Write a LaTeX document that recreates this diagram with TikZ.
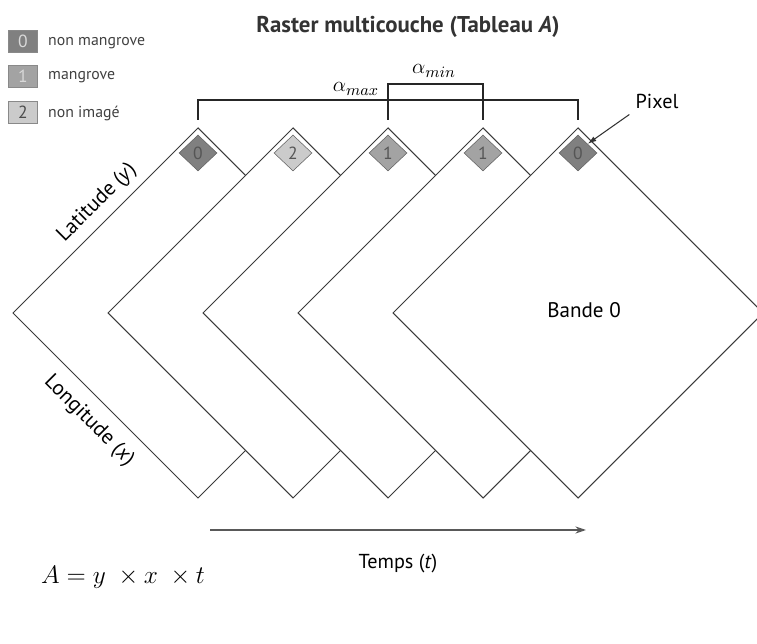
\documentclass[tikz,border=0pt]{standalone}
\usepackage{fontspec}
\setmainfont{PT Sans}
\usetikzlibrary{shapes.geometric, arrows.meta}

\begin{document}
\begin{tikzpicture}[x=0.02cm, y=-0.02cm, font=\fontsize{11.5}{13}\selectfont]
    % Define sizes (in pixels of the original figure)
    \def\halfDiag{185}
    \def\bandStep{95}
    \def\midY{313}

    \definecolor{borderColour}{HTML}{3A3A3A}
    \definecolor{zeroColour}{HTML}{808080}
    \definecolor{oneColour}{HTML}{A3A3A3}
    \definecolor{twoColour}{HTML}{CBCBCB}
    \definecolor{digitColour}{HTML}{555555}

    \tikzset{
        band/.style={fill=white, draw=borderColour, line width=0.6pt},
        pixel/.style={diamond, draw=borderColour!80, line width=0.3pt, inner sep=0pt,
            minimum width=0.76cm, minimum height=0.72cm, text=digitColour,
            font=\fontsize{10}{11}\selectfont},
        legendbox/.style={draw=borderColour!60, line width=0.4pt, inner sep=0pt,
            minimum width=0.58cm, minimum height=0.44cm, text=white!85!black,
            font=\fontsize{10}{12}\selectfont},
        legendtext/.style={anchor=west, text=black!75, font=\fontsize{9}{11}\selectfont},
        bracket/.style={line width=1pt, draw=black!85}
    }

    \useasboundingbox (0,0) rectangle (757,644);

    % Title
    \node[font=\bfseries\fontsize{13}{15}\selectfont, text=black!80] (title) at (408,27)
        {Raster multicouche (Tableau \textit{A})};

    % Legend
    \node[legendbox, fill=zeroColour] (leg0) at (23,41) {0};
    \node[legendbox, fill=oneColour] (leg1) at (23,76) {1};
    \node[legendbox, fill=twoColour, text=black!70] (leg2) at (23,112) {2};
    \node[legendtext] (leg0txt) at (42,43) {non mangrove};
    \node[legendtext] (leg1txt) at (42,77) {mangrove};
    \node[legendtext] (leg2txt) at (42,113) {non imagé};

    % Draw the bands, from the back (left) to the front (right)
    \foreach \i/\val/\col in {0/0/zeroColour, 1/2/twoColour, 2/1/oneColour, 3/1/oneColour, 4/0/zeroColour} {
        \pgfmathsetmacro\cx{198+\i*\bandStep}
        \filldraw[band] (\cx,\midY-\halfDiag) -- (\cx+\halfDiag,\midY)
            -- (\cx,\midY+\halfDiag) -- (\cx-\halfDiag,\midY) -- cycle;
        \coordinate (tick\i) at (\cx,120);
        \node[pixel, fill=\col] (pix\i) at (\cx,153) {\val};
    }

    % Brackets for the time windows
    \draw[bracket] (tick0) -- ++(0,-20) -| (tick4);
    \draw[bracket] (tick2) -- ++(0,-36) -| (tick3);
    \node[font=\fontsize{13}{15}\selectfont] (amax) at (356,89) {$\alpha_{max}$};
    \node[font=\fontsize{13}{15}\selectfont] (amin) at (434,71) {$\alpha_{min}$};

    % Pixel label
    \node (pixlabel) at (657,101) {Pixel};
    \draw[-{Latex[length=5pt,width=3pt]}, black!80, line width=0.6pt]
        (pixlabel.south west) -- (pix4.north east);

    % Axis labels
    \node[rotate=45, font=\fontsize{12}{14}\selectfont] (lat) at (97,203) {Latitude (\textit{y})};
    \node[rotate=-45, font=\fontsize{12}{14}\selectfont] (lon) at (89,421) {Longitude (\textit{x})};
    \node[font=\fontsize{12}{14}\selectfont] (bande) at (584,310) {Bande 0};

    % Time axis
    \coordinate (tstart) at (210,530);
    \coordinate (tend) at (586,530);
    \draw[-{Stealth[length=6pt,width=4pt]}, black!65, line width=0.8pt] (tstart) -- (tend);
    \node (temps) at (398,564) {Temps (\textit{t})};

    % Formula
    \node[font=\fontsize{15}{17}\selectfont] (formula) at (123,577) {$A = y \;\times x \;\times t$};

\end{tikzpicture}
\end{document}
